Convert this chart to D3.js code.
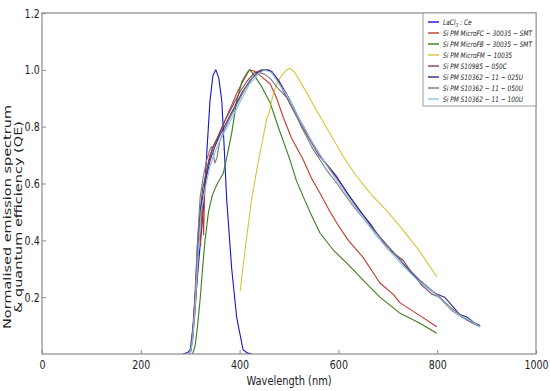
<!DOCTYPE html>
<html>
<head>
<meta charset="utf-8">
<script src="https://cdn.jsdelivr.net/npm/d3@7/dist/d3.min.js"></script>
<style>
  body { margin: 0; background: #fff; }
  svg { display: block; }
  text { font-family: "DejaVu Sans", sans-serif; fill: #222; }
</style>
</head>
<body>
<svg id="chart" width="550" height="391"></svg>
<script>
'use strict';

// wavelength (nm), normalised value
const laCl3Ce = [[285, 0], [295, 0.005], [300, 0.015], [308, 0.13], [316, 0.3], [322, 0.42], [328, 0.54],
  [334, 0.72], [340, 0.89], [346, 0.98], [352, 1.0], [358, 0.97], [364, 0.89], [369, 0.72], [374, 0.54],
  [379, 0.42], [384, 0.3], [394, 0.13], [407, 0.015], [415, 0.004], [425, 0]];

const microFC = [[300, 0], [305, 0.05], [310, 0.15], [315, 0.3], [318, 0.45], [321, 0.38], [324, 0.55],
  [327, 0.42], [330, 0.6], [335, 0.66], [340, 0.7], [346, 0.73], [355, 0.76], [365, 0.8], [380, 0.86],
  [395, 0.92], [410, 0.97], [420, 1.0], [430, 0.995], [445, 0.975], [462, 0.95], [475, 0.9], [488, 0.835],
  [505, 0.76], [529, 0.683], [545, 0.62], [563, 0.565], [580, 0.51], [597, 0.46], [620, 0.4], [650, 0.34],
  [684, 0.25], [711, 0.21], [725, 0.18], [765, 0.135], [799, 0.096]];

const microFB = [[305, 0], [310, 0.03], [315, 0.1], [320, 0.19], [325, 0.3], [330, 0.4], [337, 0.5],
  [345, 0.56], [355, 0.6], [367, 0.636], [375, 0.7], [384, 0.777], [394, 0.89], [405, 0.96], [415, 0.99],
  [421, 1.0], [430, 0.98], [445, 0.94], [462, 0.883], [480, 0.79], [502, 0.683], [515, 0.61], [529, 0.553],
  [545, 0.49], [563, 0.425], [590, 0.365], [617, 0.32], [650, 0.26], [684, 0.2], [725, 0.143], [765, 0.108],
  [799, 0.073]];

const microFM = [[401, 0.22], [412, 0.38], [424, 0.54], [436, 0.66], [448, 0.765], [455, 0.83], [460, 0.85],
  [466, 0.9], [475, 0.95], [485, 0.98], [495, 1.0], [502, 1.005], [512, 0.99], [529, 0.94], [545, 0.89],
  [563, 0.835], [585, 0.77], [610, 0.694], [635, 0.63], [664, 0.566], [700, 0.5], [731, 0.436], [765, 0.36],
  [799, 0.272]];

const s10985 = [[300, 0], [305, 0.08], [310, 0.22], [315, 0.4], [320, 0.5], [325, 0.58], [330, 0.62],
  [338, 0.68], [345, 0.72], [355, 0.76], [370, 0.82], [385, 0.87], [400, 0.92], [415, 0.96], [430, 0.99],
  [445, 1.0], [460, 1.0], [475, 0.97], [490, 0.92], [505, 0.87], [520, 0.82], [540, 0.76], [560, 0.7],
  [580, 0.66], [597, 0.624], [620, 0.56], [640, 0.51], [664, 0.46], [684, 0.41], [700, 0.37], [731, 0.33],
  [751, 0.28], [770, 0.24], [790, 0.21], [805, 0.2], [815, 0.18], [832, 0.15], [850, 0.13], [870, 0.11],
  [887, 0.096]];

const s10362_025U = [[300, 0], [305, 0.06], [310, 0.2], [316, 0.38], [322, 0.52], [330, 0.6], [340, 0.68],
  [350, 0.73], [360, 0.77], [375, 0.82], [390, 0.87], [405, 0.92], [420, 0.96], [435, 0.99], [450, 1.0],
  [465, 0.995], [480, 0.96], [500, 0.9], [520, 0.83], [545, 0.75], [570, 0.68], [597, 0.62], [625, 0.55],
  [650, 0.49], [675, 0.43], [700, 0.38], [725, 0.33], [750, 0.28], [775, 0.24], [790, 0.22], [800, 0.21],
  [815, 0.2], [830, 0.17], [845, 0.14], [860, 0.13], [875, 0.11], [887, 0.1]];

const s10362_050U = [[300, 0], [305, 0.07], [310, 0.2], [315, 0.4], [320, 0.55], [326, 0.62], [333, 0.68],
  [340, 0.72], [343, 0.73], [347, 0.7], [350, 0.672], [354, 0.69], [360, 0.75], [367, 0.78], [380, 0.83],
  [395, 0.88], [410, 0.93], [425, 0.97], [438, 0.99], [450, 0.985], [462, 0.97], [480, 0.93], [502, 0.89],
  [525, 0.8], [549, 0.72], [575, 0.65], [597, 0.6], [630, 0.52], [664, 0.45], [700, 0.38], [731, 0.32],
  [765, 0.26], [799, 0.21], [830, 0.16], [860, 0.12], [880, 0.105]];

const s10362_100U = [[300, 0], [305, 0.05], [310, 0.17], [316, 0.35], [322, 0.5], [330, 0.58], [340, 0.66],
  [350, 0.71], [360, 0.75], [375, 0.8], [390, 0.85], [405, 0.9], [420, 0.95], [435, 0.98], [450, 1.0],
  [465, 0.99], [480, 0.95], [500, 0.9], [520, 0.83], [545, 0.75], [570, 0.68], [597, 0.61], [625, 0.54],
  [650, 0.48], [675, 0.42], [700, 0.37], [731, 0.31], [760, 0.26], [790, 0.22], [815, 0.18], [840, 0.14],
  [865, 0.12], [887, 0.095]];

const seriesNames = ['LaCl_3 : Ce', 'Si PM MicroFC \u2212 30035 \u2212 SMT', 'Si PM MicroFB \u2212 30035 \u2212 SMT',
  'Si PM MicroFM \u2212 10035', 'Si PM S10985 \u2212 050C', 'Si PM S10362 \u2212 11 \u2212 025U',
  'Si PM S10362 \u2212 11 \u2212 050U', 'Si PM S10362 \u2212 11 \u2212 100U'];
const seriesData = [laCl3Ce, microFC, microFB, microFM, s10985, s10362_025U, s10362_050U, s10362_100U];
const seriesColors = ['#1515c8', '#c03a2b', '#3a7d1e', '#d8c437', '#8b4050', '#35288a', '#7a7a7a', '#86c0ea'];

const xTicks = [0, 200, 400, 600, 800, 1000];
const yTicks = [0.2, 0.4, 0.6, 0.8, 1.0, 1.2];

const svg = d3.select('#chart');
const sx = 0.76; // the source picture is squeezed sideways

const x = d3.scaleLinear().domain([0, 1000]).range([42, 536]);
const y = d3.scaleLinear().domain([0, 1.2]).range([354, 13]);

svg.append('clipPath').attr('id', 'plotClip')
  .append('rect')
  .attr('x', x(0)).attr('y', y(1.2))
  .attr('width', x(1000) - x(0)).attr('height', y(0) - y(1.2));

// curves
const line = d3.line().x(d => x(d[0])).y(d => y(d[1]));
const curves = svg.append('g').attr('clip-path', 'url(#plotClip)');
seriesData.forEach((data, i) => {
  curves.append('path')
    .attr('d', line(data))
    .attr('fill', 'none')
    .attr('stroke', seriesColors[i])
    .attr('stroke-width', 1.1)
    .attr('stroke-linejoin', 'round');
});

// axes, ticks pointing inward
const xAxis = svg.append('g')
  .attr('transform', `translate(0,${y(0)})`)
  .call(d3.axisBottom(x).tickValues(xTicks).tickFormat(d3.format('d'))
    .tickSizeInner(-4).tickSizeOuter(0).tickPadding(6));
const yAxis = svg.append('g')
  .attr('transform', `translate(${x(0)},0)`)
  .call(d3.axisLeft(y).tickValues(yTicks).tickFormat(d3.format('.1f'))
    .tickSizeInner(-4).tickSizeOuter(0).tickPadding(3));

[xAxis, yAxis].forEach(g => {
  g.select('.domain').remove();
  g.selectAll('.tick line').attr('stroke', '#888');
  g.selectAll('.tick text')
    .attr('font-family', '"DejaVu Sans", sans-serif')
    .attr('font-size', 12.5)
    .attr('fill', '#222')
    .attr('transform', `scale(${sx},1)`);
});

// frame
svg.append('rect')
  .attr('x', x(0)).attr('y', y(1.2))
  .attr('width', x(1000) - x(0)).attr('height', y(0) - y(1.2))
  .attr('fill', 'none').attr('stroke', '#8a8a8a').attr('stroke-width', 1.2);

// axis titles
svg.append('text')
  .attr('transform', `translate(${(x(0) + x(1000)) / 2},385) scale(${sx},1)`)
  .attr('text-anchor', 'middle')
  .attr('font-size', 13)
  .text('Wavelength (nm)');

const yTitle = svg.append('g').attr('transform', 'translate(0,217) scale(0.7,1)');
yTitle.append('text')
  .attr('transform', 'translate(15.5,0) rotate(-90)')
  .attr('text-anchor', 'middle')
  .attr('font-size', 14.5)
  .text('Normalised emission spectrum');
yTitle.append('text')
  .attr('transform', 'translate(32,0) rotate(-90)')
  .attr('text-anchor', 'middle')
  .attr('font-size', 14.5)
  .text('& quantum efficiency (QE)');

// legend
const legend = svg.append('g');
legend.append('rect')
  .attr('x', 423).attr('y', 13)
  .attr('width', 536 - 423).attr('height', 93)
  .attr('fill', '#fff').attr('stroke', '#9a9a9a').attr('stroke-width', 1);

seriesNames.forEach((name, i) => {
  const ly = 22 + i * 11;
  legend.append('line')
    .attr('x1', 428).attr('x2', 439).attr('y1', ly).attr('y2', ly)
    .attr('stroke', seriesColors[i]).attr('stroke-width', 1.4);
  const t = legend.append('text')
    .attr('transform', `translate(443,${ly + 2.7}) scale(0.78,1)`)
    .attr('font-size', 7.5)
    .attr('font-style', 'italic');
  if (name.indexOf('_') >= 0) {
    const parts = name.split('_');
    t.append('tspan').text(parts[0]);
    t.append('tspan').attr('font-size', 5.5).attr('dy', 2).text(parts[1].charAt(0));
    t.append('tspan').attr('dy', -2).text(parts[1].slice(1));
  } else {
    t.text(name);
  }
});
</script>
</body>
</html>
